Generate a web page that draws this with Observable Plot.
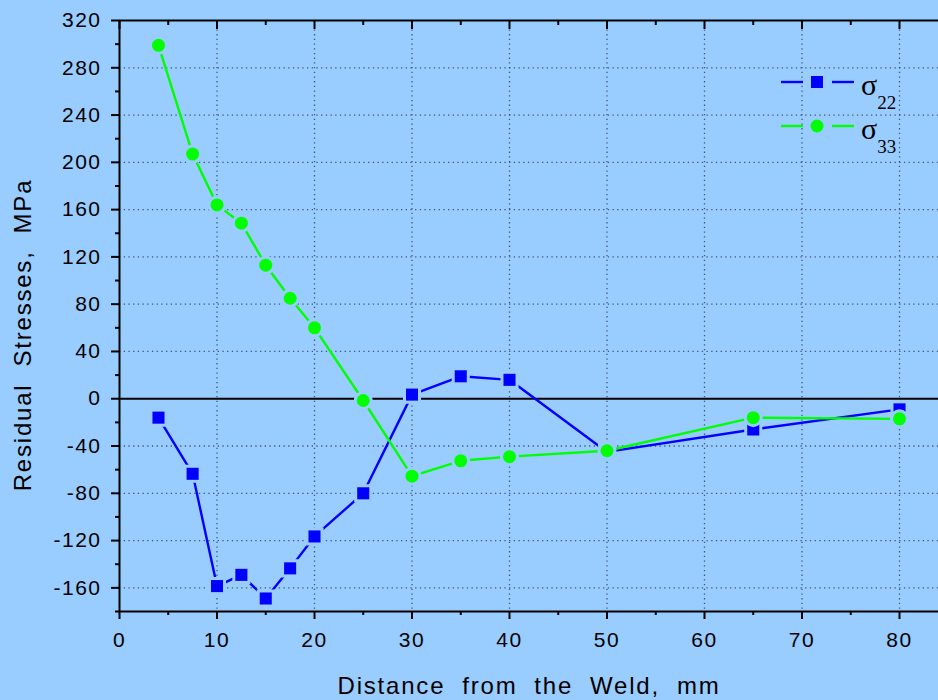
<!DOCTYPE html>
<html>
<head>
<meta charset="utf-8">
<script src="https://cdn.jsdelivr.net/npm/d3@7"></script>
<script src="https://cdn.jsdelivr.net/npm/@observablehq/plot@0.6"></script>
<style>
  html, body { margin: 0; padding: 0; background: #99CCFF; }
  svg text { white-space: pre; }
  .ticklab text { letter-spacing: 1.5px; }
  .axlab text { letter-spacing: 1.8px; }
</style>
</head>
<body>
<div id="chart"></div>
<script>
const distance = [4, 7.5, 10, 12.5, 15, 17.5, 20, 25, 30, 35, 40, 50, 65, 80];
const sigma22 = [-16, -63.5, -158.5, -149, -169, -143.5, -116.5, -80, 3.5, 19, 16, -45, -26, -9];
const sigma33 = [299, 207, 164, 148.5, 113, 85, 60, -1.5, -65.5, -52.5, -49, -44, -16, -17];
const xTicks = [0, 10, 20, 30, 40, 50, 60, 70, 80];
const xMinor = [5, 15, 25, 35, 45, 55, 65, 75];
const yTicks = [-160, -120, -80, -40, 0, 40, 80, 120, 160, 200, 240, 280, 320];
const yMinor = [-180, -140, -100, -60, -20, 20, 60, 100, 140, 180, 220, 260, 300];
const seriesNames = ["22", "33"];
const seriesColors = ["#0000FF", "#00FF00"];
const xLabel = "Distance  from  the  Weld,  mm";
const yLabel = "Residual  Stresses,  MPa";

const data22 = distance.map((d, i) => ({x: d, y: sigma22[i]}));
const data33 = distance.map((d, i) => ({x: d, y: sigma33[i]}));
const bg = "#99CCFF";
const gridStyle = {stroke: "#2a3a5a", strokeOpacity: 0.8, strokeWidth: 1.3, strokeDasharray: "1.3,3.4"};
const blank = () => "";
const fmt = d => String(d);

const chart = Plot.plot({
  width: 938,
  height: 700,
  marginLeft: 119,
  marginRight: 0,
  marginTop: 20,
  marginBottom: 89,
  x: {domain: [0, 84]},
  y: {domain: [-180, 320]},
  style: {background: bg, fontFamily: "'Liberation Sans', Arial, sans-serif", fontSize: "21px", color: "#000", overflow: "visible"},
  marks: [
    Plot.gridX(xTicks.filter(d => d > 0), gridStyle),
    Plot.gridY(yTicks.filter(d => d !== 0 && d !== 320), gridStyle),
    Plot.ruleY([0], {stroke: "#000", strokeWidth: 2.2}),
    Plot.axisX(xTicks, {tickSize: 8, tickPadding: 13, strokeWidth: 2, fontSize: 21, tickFormat: fmt, label: null, className: "ticklab"}),
    Plot.axisX(xMinor, {tickSize: 4, tickFormat: blank, strokeWidth: 2, label: null}),
    Plot.axisX(xTicks, {anchor: "top", tickSize: -8, tickFormat: blank, strokeWidth: 2, label: null}),
    Plot.axisX(xMinor, {anchor: "top", tickSize: -4, tickFormat: blank, strokeWidth: 2, label: null}),
    Plot.axisY(yTicks, {tickSize: 8, tickPadding: 10, strokeWidth: 2, fontSize: 21, tickFormat: fmt, label: null, className: "ticklab"}),
    Plot.axisY(yMinor, {tickSize: 4, tickFormat: blank, strokeWidth: 2, label: null}),
    Plot.ruleX([0], {stroke: "#000", strokeWidth: 2}),
    Plot.ruleY([-180], {stroke: "#000", strokeWidth: 2}),
    Plot.ruleY([320], {stroke: "#000", strokeWidth: 2}),
    Plot.line(data22, {x: "x", y: "y", stroke: seriesColors[0], strokeWidth: 2.4}),
    Plot.line(data33, {x: "x", y: "y", stroke: seriesColors[1], strokeWidth: 2.4}),
    Plot.dot(data22, {x: "x", y: "y", symbol: "square", r: 6.8, fill: seriesColors[0], stroke: bg, strokeWidth: 6, paintOrder: "stroke"}),
    Plot.dot(data33, {x: "x", y: "y", symbol: "circle", r: 6.5, fill: seriesColors[1], stroke: bg, strokeWidth: 6, paintOrder: "stroke"}),
    Plot.text([xLabel], {frameAnchor: "bottom", dy: 82, fontSize: 24, lineAnchor: "bottom", textAnchor: "middle", fill: "#000", className: "axlab"}),
    Plot.text([yLabel], {frameAnchor: "left", dx: -96, dy: 19, rotate: -90, fontSize: 24, textAnchor: "middle", fill: "#000", className: "axlab"})
  ]
});

// Legend (top right, inside the plot area)
const svg = d3.select(chart);
const leg = svg.append("g").attr("class", "legend").attr("text-anchor", "start");
const legY = [82, 126];
seriesNames.forEach((name, i) => {
  const g = leg.append("g").attr("transform", `translate(0,${legY[i]})`);
  g.append("line").attr("x1", 781).attr("x2", 803).attr("y1", 0).attr("y2", 0).attr("stroke", seriesColors[i]).attr("stroke-width", 2.4);
  g.append("line").attr("x1", 832).attr("x2", 854).attr("y1", 0).attr("y2", 0).attr("stroke", seriesColors[i]).attr("stroke-width", 2.4);
  if (i === 0) {
    g.append("rect").attr("x", 811).attr("y", -6).attr("width", 12).attr("height", 12).attr("fill", seriesColors[i]);
  } else {
    g.append("circle").attr("cx", 817).attr("cy", 0).attr("r", 6.5).attr("fill", seriesColors[i]);
  }
  const t = g.append("text").attr("x", 861).attr("y", 13).attr("text-anchor", "start")
    .attr("font-family", "'Liberation Serif', 'Times New Roman', serif").attr("font-size", 30).attr("fill", "#000");
  t.append("tspan").text("σ");
  t.append("tspan").attr("dy", 14).attr("font-size", 19).text(name);
});

document.getElementById("chart").appendChild(chart);
</script>
</body>
</html>
